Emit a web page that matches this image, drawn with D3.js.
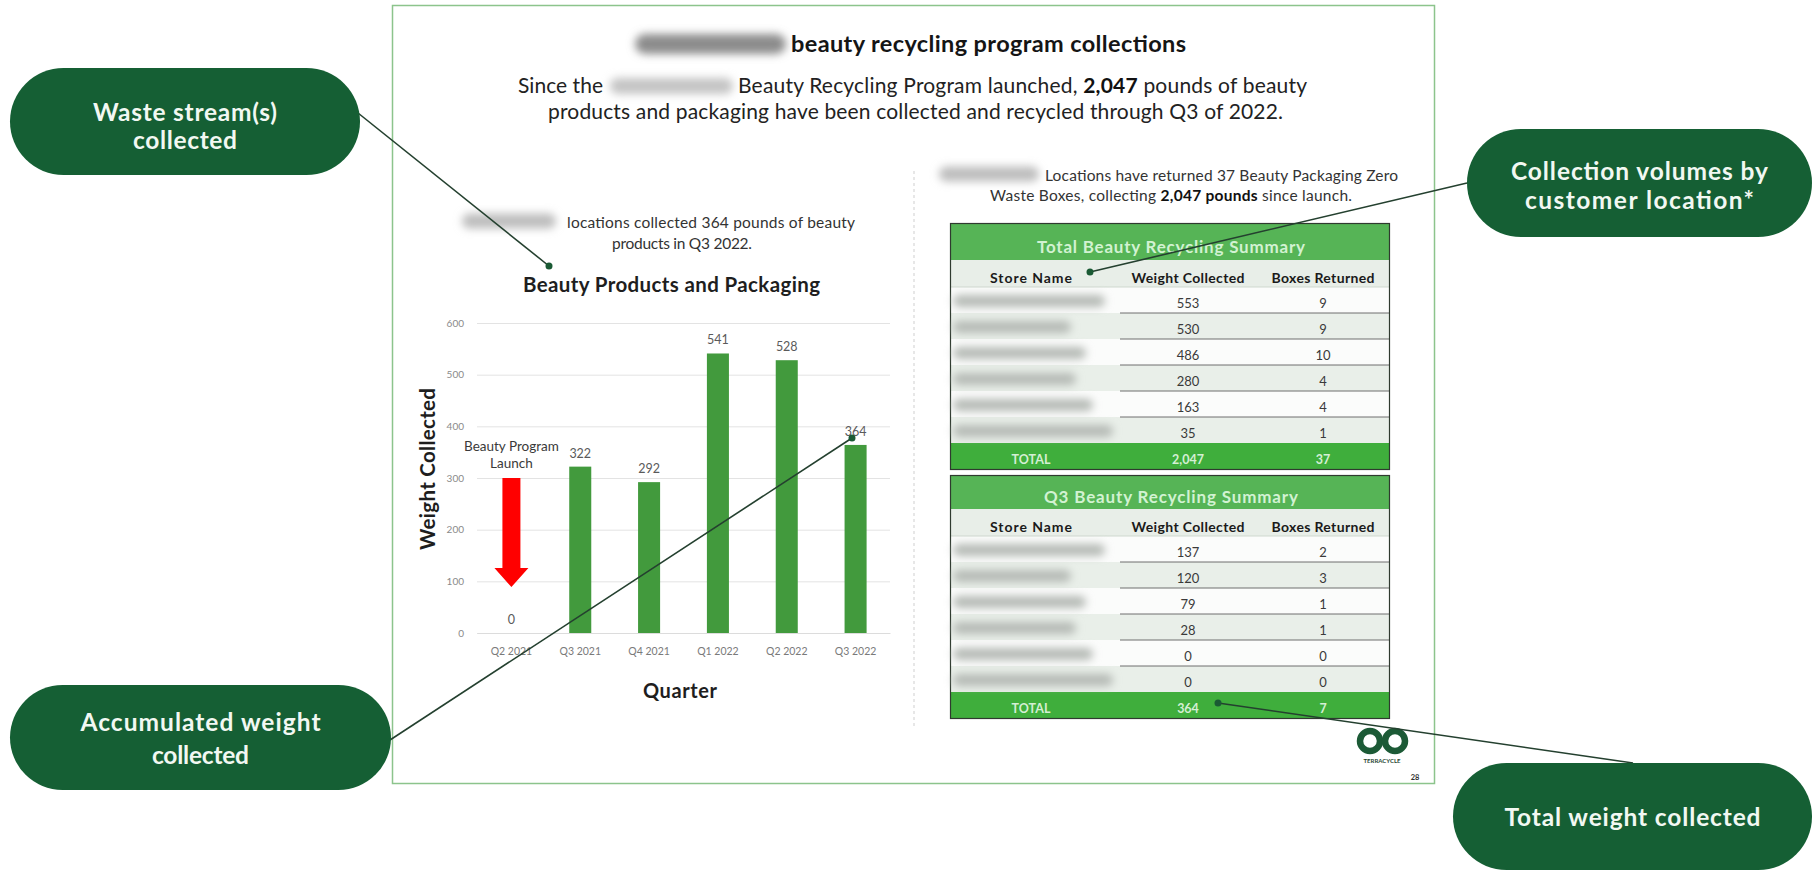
<!DOCTYPE html>
<html><head><meta charset="utf-8">
<script src="https://cdn.jsdelivr.net/npm/d3@7"></script>
<style>
html,body{margin:0;padding:0;background:#fff;}
svg{display:block;font-family:Lato,"Open Sans",sans-serif;}
</style></head><body>
<svg id="c" width="1815" height="872"></svg>
<script>
// ---------- data ----------
const quarters = ["Q2 2021","Q3 2021","Q4 2021","Q1 2022","Q2 2022","Q3 2022"];
const weights = [0,322,292,541,528,364];
const yTicks = [0,100,200,300,400,500,600];
const launchArrow = [300,126,89];          // arrow top, head start, tip (in lbs scale)
const launchLabel = ["Beauty Program","Launch"];
const tableColumns = ["Store Name","Weight Collected","Boxes Returned"];
const totalWeights = [553,530,486,280,163,35];
const totalBoxes = [9,9,10,4,4,1];
const q3Weights = [137,120,79,28,0,0];
const q3Boxes = [2,3,1,1,0,0];
const calloutTexts = [["Waste stream(s)","collected"],["Collection volumes by","customer location*"],["Accumulated weight","collected"],["Total weight collected"]];

// ---------- setup ----------
const svg = d3.select("#c");
const fmt = d3.format(",");
const defs = svg.append("defs");
defs.append("filter").attr("id","blur").attr("x","-30%").attr("y","-80%").attr("width","160%").attr("height","260%")
  .append("feGaussianBlur").attr("stdDeviation",4);

function fit(sel, len){ return sel.attr("textLength",len).attr("lengthAdjust","spacing"); }
function blurBox(x0,x1,yc,h,col){
  svg.append("rect").attr("x",x0).attr("y",yc-h/2).attr("width",x1-x0).attr("height",h)
    .attr("rx",h/2).attr("fill",col||"#9a9a9a").attr("filter","url(#blur)");
}

// slide border
svg.append("rect").attr("x",392.5).attr("y",5.5).attr("width",1042).attr("height",778)
  .attr("fill","none").attr("stroke","#8cc48c").attr("stroke-width",1.5);

// title
blurBox(635,786,44,20,"#8c8c8c");
fit(svg.append("text").attr("x",791).attr("y",52).attr("font-size",23.5).attr("font-weight",700).attr("fill","#151515")
  .text("beauty recycling program collections"), 395);

// subtitle
fit(svg.append("text").attr("x",518).attr("y",93).attr("font-size",21).attr("fill","#222").text("Since the"), 85);
blurBox(610,733,86,16,"#c4c4c4");
const sub1 = svg.append("text").attr("x",738).attr("y",93).attr("font-size",21).attr("fill","#222");
sub1.append("tspan").text("Beauty Recycling Program launched, ");
sub1.append("tspan").attr("font-weight",700).attr("fill","#111").text(fmt(d3.sum(totalWeights)));
sub1.append("tspan").text(" pounds of beauty");
fit(sub1, 569);
fit(svg.append("text").attr("x",915.5).attr("y",119).attr("text-anchor","middle").attr("font-size",21).attr("fill","#222")
  .text("products and packaging have been collected and recycled through Q3 of 2022."), 735);

// divider
svg.append("line").attr("x1",914).attr("x2",914).attr("y1",171).attr("y2",729)
  .attr("stroke","#cfcfcf").attr("stroke-dasharray","3,3");

// ---------- left chart ----------
blurBox(462,556,221,15,"#bdbdbd");
fit(svg.append("text").attr("x",567).attr("y",228).attr("font-size",15.5).attr("fill","#333")
  .text("locations collected " + d3.sum(q3Weights) + " pounds of beauty"), 288);
fit(svg.append("text").attr("x",682).attr("y",249).attr("text-anchor","middle").attr("font-size",15.5).attr("fill","#333")
  .text("products in Q3 2022."), 140);

fit(svg.append("text").attr("x",671.5).attr("y",292).attr("text-anchor","middle").attr("font-size",20.5)
  .attr("font-weight",700).attr("fill","#1e1e1e").text("Beauty Products and Packaging"), 297);

const x = d3.scaleBand().domain(quarters).range([477,890]).paddingInner(0.68).paddingOuter(0.34);
const y = d3.scaleLinear().domain([0,600]).range([633,323]);

const yAxis = svg.append("g").attr("transform","translate(477,0)")
  .call(d3.axisLeft(y).tickValues(yTicks).tickSize(-413).tickPadding(13));
yAxis.select(".domain").remove();
yAxis.selectAll(".tick line").attr("stroke","#e3e3e3");
yAxis.selectAll(".tick text").attr("fill","#8a8a8a").attr("font-size",10).attr("font-family","Lato");

const xAxis = svg.append("g").attr("transform","translate(0,633)")
  .call(d3.axisBottom(x).tickSize(0).tickPadding(15));
xAxis.select(".domain").attr("stroke","#dcdcdc");
xAxis.selectAll(".tick text").attr("fill","#7a7a7a").attr("font-size",10.5).attr("font-family","Lato");

svg.append("g").selectAll("rect").data(quarters).join("rect")
  .attr("x",d=>x(d)).attr("width",x.bandwidth())
  .attr("y",(d,i)=>y(weights[i])).attr("height",(d,i)=>y(0)-y(weights[i]))
  .attr("fill","#429a3d");

svg.append("g").selectAll("text").data(quarters).join("text")
  .attr("x",d=>x(d)+x.bandwidth()/2).attr("y",(d,i)=>y(weights[i])-9)
  .attr("text-anchor","middle").attr("font-size",12.5).attr("fill","#5a5a5a")
  .text((d,i)=>weights[i]);

// launch arrow
const ac = x(quarters[0]) + x.bandwidth()/2;
const [aTop,aHead,aTip] = launchArrow;
svg.append("path").attr("fill","#ff0000")
  .attr("d",`M${ac-9},${y(aTop)}H${ac+9}V${y(aHead)}H${ac+17}L${ac},${y(aTip)}L${ac-17},${y(aHead)}H${ac-9}Z`);
svg.append("g").selectAll("text").data(launchLabel).join("text")
  .attr("x",ac).attr("y",(d,i)=>y(aTop)-27+i*17).attr("text-anchor","middle")
  .attr("font-size",13.5).attr("fill","#3a3a3a").text(d=>d);

fit(svg.append("text").attr("transform","translate(435,469) rotate(-90)").attr("text-anchor","middle")
  .attr("font-size",20.5).attr("font-weight",700).attr("fill","#1e1e1e").text("Weight Collected"), 162);
fit(svg.append("text").attr("x",680).attr("y",698).attr("text-anchor","middle")
  .attr("font-size",20).attr("font-weight",700).attr("fill","#1e1e1e").text("Quarter"), 74);

// ---------- right side ----------
blurBox(939,1039,174,15,"#bdbdbd");
fit(svg.append("text").attr("x",1045).attr("y",181).attr("font-size",15.5).attr("fill","#333")
  .text("Locations have returned " + d3.sum(totalBoxes) + " Beauty Packaging Zero"), 353);
const r2 = svg.append("text").attr("x",1171).attr("y",201).attr("text-anchor","middle").attr("font-size",15.5).attr("fill","#333");
r2.append("tspan").text("Waste Boxes, collecting ");
r2.append("tspan").attr("font-weight",700).attr("fill","#111").text(fmt(d3.sum(totalWeights)) + " pounds");
r2.append("tspan").text(" since launch.");
fit(r2, 362);

const colX = [1031,1188,1323];
const headW = [82,113,103];
const nameBlur = [152,118,133,123,140,160];

function drawTable(top, titleH, title, titleW, wArr, bArr){
  const L = 950, R = 1390, headH = 27, rowH = 26, totH = 27;
  const g = svg.append("g");
  const hTop = top + titleH, rTop = hTop + headH;
  const rows = d3.scaleBand().domain(d3.range(wArr.length)).range([rTop, rTop + rowH*wArr.length]);
  const tTop = rows.range()[1];
  g.append("rect").attr("x",L).attr("y",top).attr("width",R-L).attr("height",titleH).attr("fill","#56b456");
  fit(g.append("text").attr("x",1171).attr("y",top+titleH/2+11).attr("text-anchor","middle")
    .attr("font-size",17).attr("font-weight",700).attr("fill","#d2f2d2").text(title), titleW);
  g.append("rect").attr("x",L).attr("y",hTop).attr("width",R-L).attr("height",headH).attr("fill","#e8eee8");
  g.selectAll("text.h").data(tableColumns).join("text").attr("class","h")
    .attr("x",(d,i)=>colX[i]).attr("y",hTop+headH/2+9).attr("text-anchor","middle")
    .attr("font-size",14).attr("font-weight",700).attr("fill","#1a1a1a")
    .attr("textLength",(d,i)=>headW[i]).attr("lengthAdjust","spacing").text(d=>d);
  g.selectAll("rect.r").data(wArr).join("rect").attr("class","r")
    .attr("x",L).attr("y",(d,i)=>rows(i)).attr("width",R-L).attr("height",rows.bandwidth())
    .attr("fill",(d,i)=>i%2 ? "#e9efe9" : "#fbfcfb");
  g.append("line").attr("x1",L).attr("x2",R).attr("y1",rTop).attr("y2",rTop).attr("stroke","#cfd8cf");
  g.selectAll("line.r").data(wArr.slice(0,-1)).join("line").attr("class","r")
    .attr("x1",1120).attr("x2",R).attr("y1",(d,i)=>rows(i)+rowH).attr("y2",(d,i)=>rows(i)+rowH)
    .attr("stroke","#6e6e6e").attr("stroke-width",1);
  wArr.forEach((d,i)=>{
    svg.append("rect").attr("x",953).attr("y",rows(i)+rowH/2-5).attr("width",nameBlur[i]).attr("height",12)
      .attr("rx",6).attr("fill","#b5bab5").attr("filter","url(#blur)");
  });
  g.selectAll("text.w").data(wArr).join("text").attr("class","w")
    .attr("x",colX[1]).attr("y",(d,i)=>rows(i)+rowH/2+8).attr("text-anchor","middle")
    .attr("font-size",13).attr("fill","#3a3a3a").text(d=>fmt(d));
  g.selectAll("text.b").data(bArr).join("text").attr("class","b")
    .attr("x",colX[2]).attr("y",(d,i)=>rows(i)+rowH/2+8).attr("text-anchor","middle")
    .attr("font-size",13).attr("fill","#3a3a3a").text(d=>d);
  g.append("rect").attr("x",L).attr("y",tTop).attr("width",R-L).attr("height",totH).attr("fill","#3fae3c");
  g.selectAll("text.t").data(["TOTAL", fmt(d3.sum(wArr)), d3.sum(bArr)]).join("text").attr("class","t")
    .attr("x",(d,i)=>colX[i]).attr("y",tTop+totH/2+7).attr("text-anchor","middle")
    .attr("font-size",12.5).attr("font-weight",700).attr("fill","#d4efd4").text(d=>d);
  g.append("rect").attr("x",L+0.5).attr("y",top+0.5).attr("width",R-L-1).attr("height",tTop+totH-top-1)
    .attr("fill","none").attr("stroke","#2f3a2f").attr("stroke-width",1.2);
}
drawTable(223, 37, "Total Beauty Recycling Summary", 268, totalWeights, totalBoxes);
drawTable(475, 34, "Q3 Beauty Recycling Summary", 254, q3Weights, q3Boxes);

// logo
const logo = svg.append("g").attr("fill","none").attr("stroke","#1c5a36").attr("stroke-width",6.5);
logo.append("circle").attr("cx",1370).attr("cy",741).attr("r",10);
logo.append("circle").attr("cx",1395).attr("cy",741).attr("r",10);
svg.append("text").attr("x",1382).attr("y",763).attr("text-anchor","middle").attr("font-size",6)
  .attr("font-weight",700).attr("fill","#2a4a35").text("TERRACYCLE");
svg.append("text").attr("x",1415).attr("y",780).attr("text-anchor","middle").attr("font-size",7.5)
  .attr("font-weight",700).attr("fill","#333").text("28");

// ---------- callouts ----------
const bubbles = [
  {x0:10,x1:360,y0:68,y1:175,lines:[113,141],w:[184,104]},
  {x0:1467,x1:1812,y0:129,y1:237,lines:[172,201],w:[257,229]},
  {x0:10,x1:391,y0:685,y1:790,lines:[723,756],w:[240,97]},
  {x0:1453,x1:1812,y0:763,y1:870,lines:[818],w:[256]}
];
const leaders = [[358,113,549,266],[1467,183,1090,272],[390,740,852,438],[1633,763,1218,703]];
leaders.forEach(l=>{
  svg.append("line").attr("x1",l[0]).attr("y1",l[1]).attr("x2",l[2]).attr("y2",l[3])
    .attr("stroke","#24402f").attr("stroke-width",1.6);
  svg.append("circle").attr("cx",l[2]).attr("cy",l[3]).attr("r",3.5).attr("fill","#1a5a34");
});
bubbles.forEach((b,i)=>{
  const h = b.y1-b.y0;
  svg.append("rect").attr("x",b.x0).attr("y",b.y0).attr("width",b.x1-b.x0).attr("height",h)
    .attr("rx",h/2).attr("fill","#155f34");
  calloutTexts[i].forEach((t,j)=>{
    fit(svg.append("text").attr("x",(b.x0+b.x1)/2).attr("y",b.lines[j]+8).attr("text-anchor","middle")
      .attr("font-size",24.5).attr("font-weight",700).attr("fill","#f2f8f2").text(t), b.w[j]);
  });
});
</script>
</body></html>
